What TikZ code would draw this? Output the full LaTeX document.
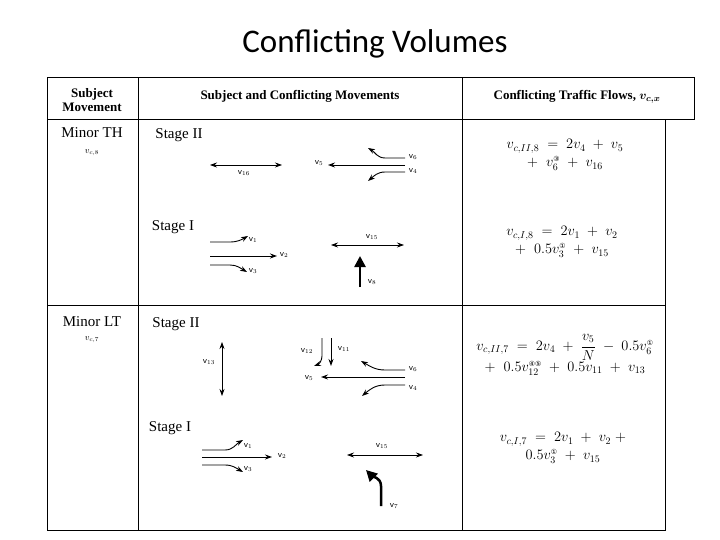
\documentclass[tikz,border=0pt]{standalone}
\usepackage{amsmath}
\usepackage{fontspec}
\setmainfont{Liberation Serif}
\newfontfamily\titlefont{Carlito}
\newfontfamily\dvfont{DejaVu Sans}
\usetikzlibrary{arrows.meta}
\newcommand{\cnum}[1]{\text{\dvfont\fontsize{7}{8}\selectfont #1}}
\begin{document}
\begin{tikzpicture}[x=1pt,y=-1pt,
  lab/.style={font=\sffamily\fontsize{9}{10}\selectfont,inner sep=1pt},
  mv/.style={line width=0.9pt,-{Stealth[length=7pt,width=5pt]}},
  dmv/.style={line width=0.7pt,{Stealth[length=7pt,width=5pt]}-{Stealth[length=7pt,width=5pt]}},
  thick mv/.style={line width=2.5pt,-{Triangle[length=11pt,width=11pt]}},
  hdr/.style={font=\bfseries\fontsize{13}{14}\selectfont,align=center},
  txt/.style={font=\fontsize{15}{17}\selectfont},
  eq/.style={font=\fontsize{14}{18}\selectfont,align=center}]
\useasboundingbox (0,0) rectangle (720,540);
% title
\node[font=\titlefont\fontsize{33}{36}\selectfont] (title) at (375,44) {Conflicting Volumes};
% table
\draw[line width=1pt] (47,78) rectangle (694,120);
\draw[line width=1pt] (47,120) -- (47,530) -- (665,530) -- (665,120);
\draw[line width=0.8pt] (138,78) -- (138,530);
\draw[line width=0.8pt] (462,78) -- (462,530);
\draw[line width=0.8pt] (47,305) -- (665,305);
\node[hdr] (h1) at (92,100) {Subject\\Movement};
\node[hdr] (h2) at (300,96) {Subject and Conflicting Movements};
\node[hdr] (h3) at (577,97) {Conflicting Traffic Flows, $\boldsymbol{v_{c,x}}$};
\node[txt] (m1) at (92,133) {Minor TH};
\node[font=\fontsize{9}{10}\selectfont] (m1v) at (92,153) {$v_{c,8}$};
\node[txt] (m2) at (92,322) {Minor LT};
\node[font=\fontsize{9}{10}\selectfont] (m2v) at (92,340) {$v_{c,7}$};
% Row 1 Stage II
\node[txt] (s1) at (179,135) {Stage II};
\coordinate (a16l) at (210,165); \coordinate (a16r) at (282,165);
\draw[dmv] (a16l) -- (a16r);
\node[lab] (l16) at (244,173) {v$_{16}$};
\coordinate (b5s) at (405,165); \coordinate (b5e) at (328,165);
\draw[mv] (b5s) -- (b5e);
\node[lab] (l5) at (319,163) {v$_5$};
\coordinate (b6s) at (405,158); \coordinate (b6e) at (368,148);
\draw[mv] (b6s) -- (385,158) to[out=180,in=-30] (b6e);
\node[lab] (l6) at (413,157) {v$_6$};
\coordinate (b4s) at (405,172); \coordinate (b4e) at (368,181);
\draw[mv] (b4s) -- (385,172) to[out=180,in=40] (b4e);
\node[lab] (l4) at (413,171) {v$_4$};
% Row 1 Stage I
\node[txt] (s2) at (173,227) {Stage I};
\coordinate (c1s) at (210,242); \coordinate (c1e) at (248,236);
\draw[mv] (c1s) -- (230,242) to[out=0,in=210] (c1e);
\node[lab] (l1) at (253,240) {v$_1$};
\coordinate (c2s) at (210,256); \coordinate (c2e) at (277,256);
\draw[mv] (c2s) -- (c2e);
\node[lab] (l2) at (284,255) {v$_2$};
\coordinate (c3s) at (210,265); \coordinate (c3e) at (247,272);
\draw[mv] (c3s) -- (230,265) to[out=0,in=150] (c3e);
\node[lab] (l3) at (253,271) {v$_3$};
\coordinate (c15l) at (331,245); \coordinate (c15r) at (404,245);
\draw[dmv] (c15l) -- (c15r);
\node[lab] (l15) at (372,237) {v$_{15}$};
\coordinate (c8s) at (360,287); \coordinate (c8e) at (360,256);
\draw[thick mv] (c8s) -- (c8e);
\node[lab] (l8) at (372,282) {v$_8$};
% formulas row 1
\node[eq] (f1) at (565,155) {$v_{c,II,8} \;=\; 2v_4 \;+\; v_5$\\ $+\;\; v_6^{\cnum{③}} \;+\; v_{16}$};
\node[eq] (f2) at (562,242) {$v_{c,I,8} \;=\; 2v_1 \;+\; v_2$\\ $+\;\; 0.5v_3^{\cnum{①}} \;+\; v_{15}$};
% Row 2 Stage II
\node[txt] (s3) at (176,324) {Stage II};
\coordinate (d13t) at (222,342); \coordinate (d13b) at (222,396);
\draw[dmv] (d13t) -- (d13b);
\node[lab] (l13) at (209,362) {v$_{13}$};
\coordinate (e12s) at (322,338); \coordinate (e12e) at (314,366);
\draw[mv] (e12s) -- (322,356) to[out=-90,in=20] (e12e);
\node[lab] (l12) at (307,351) {v$_{12}$};
\coordinate (e11s) at (331,338); \coordinate (e11e) at (331,366);
\draw[mv] (e11s) -- (e11e);
\node[lab] (l11) at (344,349) {v$_{11}$};
\coordinate (e5s) at (405,377); \coordinate (e5e) at (321,377);
\draw[mv] (e5s) -- (e5e);
\node[lab] (l5b) at (309,378) {v$_5$};
\coordinate (e6s) at (405,370); \coordinate (e6e) at (361,361);
\draw[mv] (e6s) -- (385,370) to[out=180,in=-30] (e6e);
\node[lab] (l6b) at (413,369) {v$_6$};
\coordinate (e4s) at (405,385); \coordinate (e4e) at (362,396);
\draw[mv] (e4s) -- (385,385) to[out=180,in=40] (e4e);
\node[lab] (l4b) at (413,388) {v$_4$};
% Row 2 Stage I
\node[txt] (s4) at (170,428) {Stage I};
\coordinate (g1s) at (202,450); \coordinate (g1e) at (243,440);
\draw[mv] (g1s) -- (225,450) to[out=0,in=210] (g1e);
\node[lab] (l1b) at (248,446) {v$_1$};
\coordinate (g2s) at (202,457); \coordinate (g2e) at (272,457);
\draw[mv] (g2s) -- (g2e);
\node[lab] (l2b) at (282,456) {v$_2$};
\coordinate (g3s) at (202,465); \coordinate (g3e) at (243,472);
\draw[mv] (g3s) -- (225,465) to[out=0,in=150] (g3e);
\node[lab] (l3b) at (248,469) {v$_3$};
\coordinate (g15l) at (347,455); \coordinate (g15r) at (423,455);
\draw[dmv] (g15l) -- (g15r);
\node[lab] (l15b) at (382,446) {v$_{15}$};
\coordinate (g7s) at (381,506); \coordinate (g7e) at (366,470);
\draw[thick mv] (g7s) -- (381,486) to[out=90,in=-45] (g7e);
\node[lab] (l7) at (394,506) {v$_7$};
% formulas row 2
\node[eq] (f3) at (565,355) {$v_{c,II,7} \;=\; 2v_4 \;+\; \dfrac{v_5}{N} \;-\; 0.5v_6^{\cnum{①}}$\\ $+\;\; 0.5v_{12}^{\cnum{④⑤}} \;+\; 0.5v_{11} \;+\; v_{13}$};
\node[eq] (f4) at (563,448) {$v_{c,I,7} \;=\; 2v_1 \;+\; v_2 \;+$\\ $0.5v_3^{\cnum{①}} \;+\; v_{15}$};
\end{tikzpicture}
\end{document}
